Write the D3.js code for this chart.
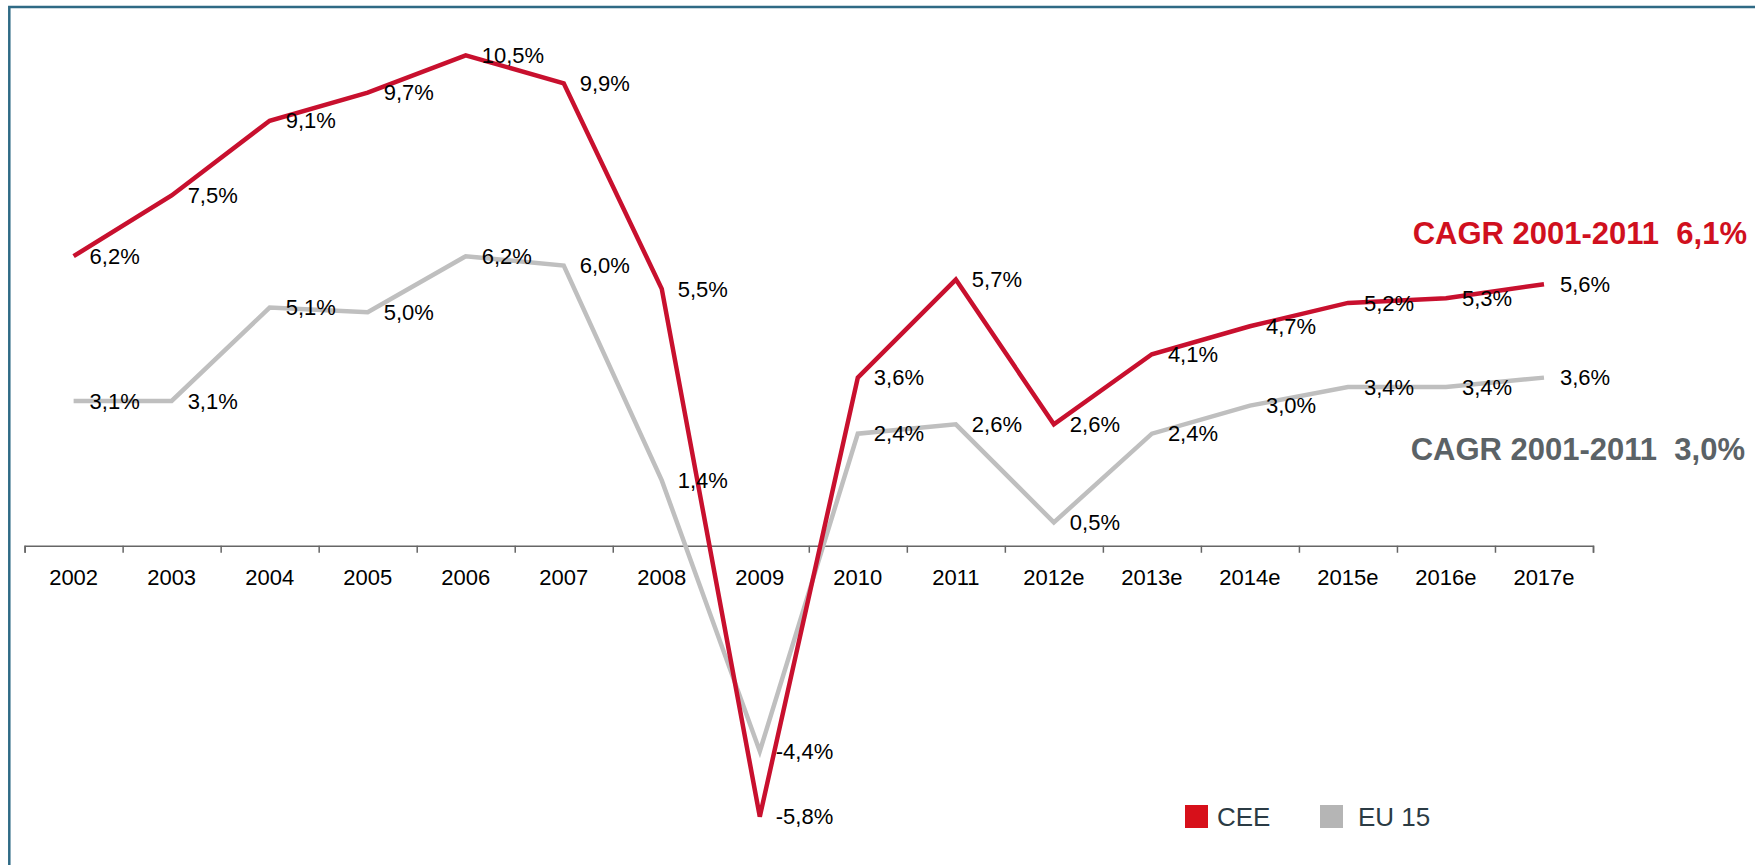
<!DOCTYPE html>
<html>
<head>
<meta charset="utf-8">
<script src="https://cdn.jsdelivr.net/npm/d3@7"></script>
<style>
  html, body { margin: 0; padding: 0; background: #fff; }
  text { font-family: "Liberation Sans", Arial, sans-serif; white-space: pre; }
</style>
</head>
<body>
<div id="chart"></div>
<script>
// 1. Data
const years = ["2002", "2003", "2004", "2005", "2006", "2007", "2008", "2009",
  "2010", "2011", "2012e", "2013e", "2014e", "2015e", "2016e", "2017e"];
const cee = [6.2, 7.5, 9.1, 9.7, 10.5, 9.9, 5.5, -5.8, 3.6, 5.7, 2.6, 4.1, 4.7, 5.2, 5.3, 5.6];
const eu15 = [3.1, 3.1, 5.1, 5.0, 6.2, 6.0, 1.4, -4.4, 2.4, 2.6, 0.5, 2.4, 3.0, 3.4, 3.4, 3.6];
const seriesNames = ["CEE", "EU 15"];
const cagrLabels = ["CAGR 2001-2011  6,1%", "CAGR 2001-2011  3,0%"];

// plain hyphen and decimal comma, like the original
const fmt = v => (v < 0 ? "-" : "") + Math.abs(v).toFixed(1).replace(".", ",") + "%";

// 2. Dimensions
const dimensions = {
  width: 1755,
  height: 865,
  axisLeft: 24.6,
  axisRight: 1593,
  top: 32,
  bottom: 826,
};

const colors = {
  cee: "#c8102e",
  eu: "#bfbfbf",
  ceeText: "#d0101e",
  euText: "#5b6266",
  ceeKey: "#d7101a",
  euKey: "#b5b5b5",
};

// 3. Canvas
const wrapper = d3.select("#chart")
  .append("svg")
    .attr("width", dimensions.width)
    .attr("height", dimensions.height);

wrapper.append("rect")
  .attr("x", 9.3)
  .attr("y", 7)
  .attr("width", 1900)
  .attr("height", 1000)
  .attr("fill", "none")
  .attr("stroke", "#2f6a85")
  .attr("stroke-width", 2.5);

// 4. Scales
const xScale = d3.scaleBand()
  .domain(years)
  .range([dimensions.axisLeft, dimensions.axisRight]);

const xEdges = d3.scaleLinear()
  .domain([0, years.length])
  .range(xScale.range());

const yScale = d3.scaleLinear()
  .domain([-6, 11])
  .range([dimensions.bottom, dimensions.top]);

const xPos = (d, i) => xScale(years[i]) + xScale.bandwidth() / 2;

// 5. Axis
const axisY = yScale(0);

const tickAxis = wrapper.append("g")
  .attr("transform", `translate(0, ${axisY})`)
  .call(d3.axisBottom(xEdges).ticks(years.length).tickSize(7).tickFormat(""));
tickAxis.selectAll("line, path")
  .attr("stroke", "#666")
  .attr("stroke-width", 1.5);

const labelAxis = wrapper.append("g")
  .attr("transform", `translate(0, ${axisY})`)
  .call(d3.axisBottom(xScale).tickSize(0));
labelAxis.select(".domain").remove();
labelAxis.selectAll("text")
  .attr("y", 32)
  .attr("dy", "0.35em")
  .attr("fill", "#000")
  .style("font-size", "22px")
  .style("font-family", "'Liberation Sans', Arial, sans-serif");

// 6. Lines
const lineGen = d3.line()
  .x(xPos)
  .y(d => yScale(d));

wrapper.append("path")
  .datum(eu15)
  .attr("d", lineGen)
  .attr("fill", "none")
  .attr("stroke", colors.eu)
  .attr("stroke-width", 4.5)
  .attr("stroke-linejoin", "miter");

wrapper.append("path")
  .datum(cee)
  .attr("d", lineGen)
  .attr("fill", "none")
  .attr("stroke", colors.cee)
  .attr("stroke-width", 4.5)
  .attr("stroke-linejoin", "miter");

// 7. Value labels
[eu15, cee].forEach(series => {
  wrapper.append("g")
    .selectAll("text")
    .data(series)
    .join("text")
      .attr("x", (d, i) => xPos(d, i) + 16)
      .attr("y", d => yScale(d))
      .attr("dy", "0.35em")
      .attr("fill", "#000")
      .style("font-size", "22px")
      .text(fmt);
});

// 8. CAGR notes
wrapper.append("text")
  .attr("x", 1747)
  .attr("y", 233)
  .attr("dy", "0.35em")
  .attr("text-anchor", "end")
  .attr("fill", colors.ceeText)
  .style("font-size", "31px")
  .style("font-weight", "bold")
  .text(cagrLabels[0]);

wrapper.append("text")
  .attr("x", 1745)
  .attr("y", 449)
  .attr("dy", "0.35em")
  .attr("text-anchor", "end")
  .attr("fill", colors.euText)
  .style("font-size", "31px")
  .style("font-weight", "bold")
  .text(cagrLabels[1]);

// 9. Legend
const legendX = [1185, 1320];
const legend = wrapper.append("g")
  .selectAll("g")
  .data(seriesNames)
  .join("g")
    .attr("transform", (d, i) => `translate(${legendX[i]}, 805)`);

legend.append("rect")
  .attr("width", 23)
  .attr("height", 23)
  .attr("fill", (d, i) => i === 0 ? colors.ceeKey : colors.euKey);

legend.append("text")
  .attr("x", (d, i) => i === 0 ? 32 : 38)
  .attr("y", 12)
  .attr("dy", "0.35em")
  .attr("fill", "#2b3b44")
  .style("font-size", "26px")
  .text(d => d);
</script>
</body>
</html>
